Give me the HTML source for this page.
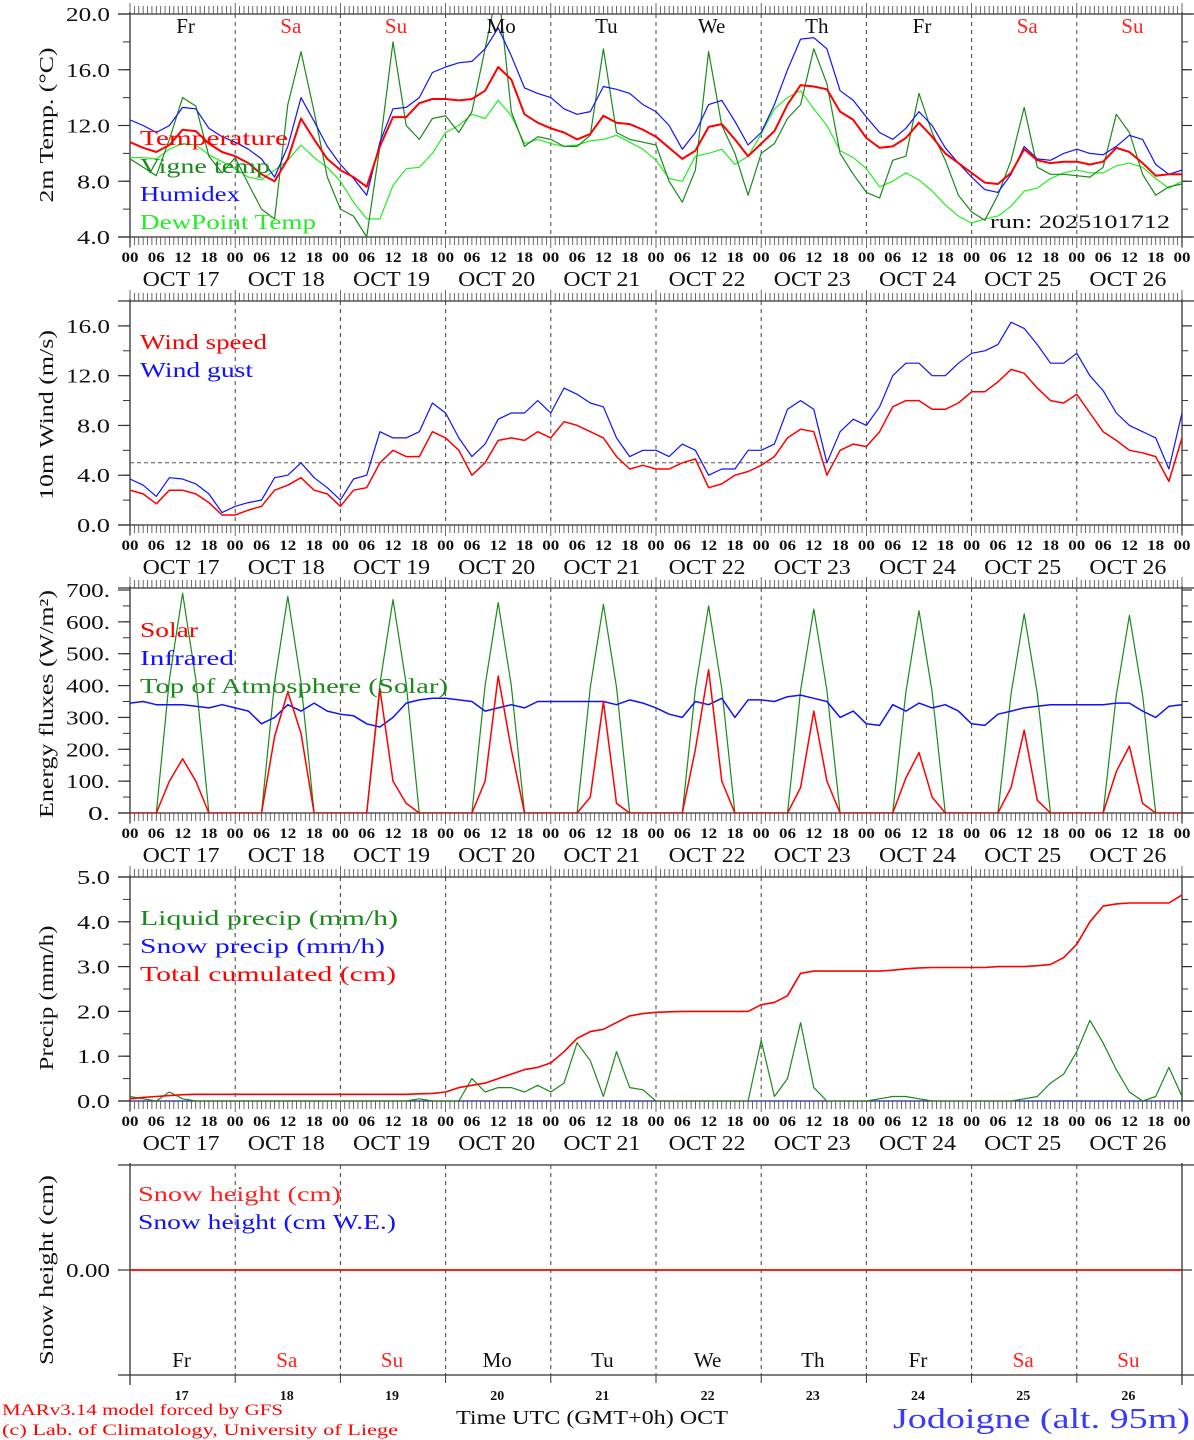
<!DOCTYPE html>
<html><head><meta charset="utf-8"><style>
html,body{margin:0;padding:0;background:#fff;}
svg{display:block;font-family:"Liberation Serif","DejaVu Serif",serif;}
</style></head><body>
<svg id="chart" width="1194" height="1440" viewBox="0 0 1194 1440" xmlns="http://www.w3.org/2000/svg">
<rect width="1194" height="1440" fill="#fff"/>
</svg>
<script>
// ---- data (3-hourly, 00 UTC Oct 17 -> 00 UTC Oct 27) ----
const dayNames = ["Fr","Sa","Su","Mo","Tu","We","Th","Fr","Sa","Su"];
const dayNums = ["17","18","19","20","21","22","23","24","25","26"];
const hourLabels = ["00","06","12","18"];
const tempTicks = [20,16,12,8,4];
const windTicks = [16,12,8,4,0];
const fluxTicks = [700,600,500,400,300,200,100,0];
const precipTicks = [5,4,3,2,1,0];

const temperature = [10.8,10.4,10.1,10.6,11.7,11.6,10.7,10.1, 9.8,9.3,8.5,8.0,9.6,12.5,11.0,9.6, 8.8,8.3,7.6,10.5,12.6,12.6,13.6,13.9, 13.9,13.8,13.9,14.5,16.2,15.3,12.8,12.2, 11.8,11.5,11.0,11.4,12.7,12.2,12.1,11.7, 11.2,10.4,9.6,10.2,11.9,12.1,11.0,9.8, 10.7,11.6,13.5,14.9,14.8,14.6,13.0,12.4, 11.1,10.4,10.5,11.1,12.2,11.2,10.0,9.3, 8.6,7.9,7.8,8.6,10.3,9.5,9.3,9.4, 9.4,9.2,9.4,10.4,10.1,9.3,8.4,8.5,8.5];
const vigneTemp = [9.6,9.0,8.4,11.0,14.0,13.4,9.8,8.6, 9.7,7.8,6.0,5.3,13.5,17.3,13.0,8.3, 6.0,5.5,4.0,10.5,18.0,12.0,11.0,12.5, 12.7,11.5,13.0,17.5,22.0,13.0,10.5,11.2, 11.0,10.5,10.5,11.3,17.5,11.5,11.0,10.8, 10.6,8.0,6.5,8.8,17.3,12.0,10.0,7.0, 10.0,10.7,12.5,13.5,17.5,15.0,10.0,8.5, 7.2,6.8,9.5,9.8,14.3,11.5,9.5,7.0, 5.8,5.2,7.0,9.5,13.3,9.0,8.5,8.5, 8.4,8.3,9.0,12.8,11.5,8.5,7.0,7.6,7.8];
const humidex = [12.4,12.0,11.5,12.0,13.3,13.2,11.8,11.2, 10.8,10.3,9.6,8.3,10.5,14.0,12.3,10.5, 9.2,8.2,7.0,10.8,13.2,13.3,14.0,15.8, 16.2,16.5,16.6,17.5,19.0,17.0,14.7,14.3, 14.0,13.2,12.8,13.0,14.8,14.6,14.3,13.5, 13.0,12.0,10.3,11.5,13.5,13.8,12.3,10.6, 11.5,13.5,16.0,18.2,18.3,17.5,14.5,13.8, 12.6,11.5,11.0,11.8,13.0,12.0,10.4,9.3, 8.3,7.4,7.2,8.5,10.5,9.6,9.5,10.0, 10.3,10.0,9.9,10.5,11.3,11.0,9.2,8.5,8.8];
const dewPoint = [9.7,9.7,9.6,10.3,10.7,10.6,9.9,9.4, 8.9,8.3,8.1,8.8,9.5,10.6,9.7,9.0, 8.0,6.5,5.3,5.3,7.7,8.9,9.0,10.0, 11.5,12.0,12.8,12.5,13.8,12.7,10.7,11.0, 10.7,10.5,10.6,10.9,11.0,11.3,10.8,10.3, 9.5,8.2,8.0,9.8,10.0,10.3,9.2,9.8, 11.4,13.2,14.0,14.5,13.2,12.0,10.2,9.7, 8.9,7.6,8.0,8.6,8.1,7.3,6.3,5.5, 5.0,5.3,5.5,6.2,7.3,7.5,8.2,8.6, 8.8,8.6,8.6,9.1,9.3,9.0,8.2,7.5,8.0];

const windSpeed = [2.8,2.5,1.7,2.8,2.8,2.5,1.8,0.8, 0.8,1.2,1.5,2.8,3.2,3.8,2.8,2.5, 1.5,2.8,3.0,5.0,6.0,5.5,5.5,7.5, 7.0,6.0,4.0,5.0,6.8,7.0,6.8,7.5, 7.0,8.3,8.0,7.5,7.0,5.5,4.5,4.8, 4.5,4.5,5.0,5.3,3.0,3.3,4.0,4.3, 4.8,5.5,7.0,7.7,7.5,4.0,6.0,6.5, 6.3,7.5,9.5,10.0,10.0,9.3,9.3,9.8, 10.7,10.7,11.5,12.5,12.2,11.0,10.0,9.8, 10.5,9.0,7.5,6.8,6.0,5.8,5.5,3.5,7.0];
const windGust = [3.7,3.2,2.3,3.8,3.7,3.3,2.5,1.0, 1.5,1.8,2.0,3.8,4.0,5.0,3.8,3.0, 2.0,3.7,4.0,7.5,7.0,7.0,7.5,9.8, 9.0,7.0,5.5,6.5,8.5,9.0,9.0,10.0, 9.0,11.0,10.5,9.8,9.5,7.0,5.5,6.0, 6.0,5.5,6.5,6.0,4.0,4.5,4.5,6.0, 6.0,6.5,9.3,10.0,9.3,5.0,7.5,8.5, 8.0,9.5,12.0,13.0,13.0,12.0,12.0,13.0, 13.8,14.0,14.5,16.3,15.8,14.5,13.0,13.0, 13.8,12.0,10.8,9.0,8.0,7.5,7.0,4.5,9.0];

const solar = [0,0,0,100,170,100,0,0, 0,0,0,240,380,250,0,0, 0,0,0,390,100,30,0,0, 0,0,0,100,430,200,0,0, 0,0,0,50,350,30,0,0, 0,0,0,200,450,100,0,0, 0,0,0,80,320,100,0,0, 0,0,0,110,190,50,0,0, 0,0,0,80,260,40,0,0, 0,0,0,130,210,30,0,0,0];
const infrared = [345,350,340,340,340,335,330,340, 330,320,280,300,340,320,345,320, 310,305,280,270,300,345,355,360, 360,355,350,320,330,340,330,350, 350,350,350,350,350,340,355,345, 330,310,300,350,340,360,300,355, 355,350,365,370,360,350,300,320, 280,275,340,320,345,330,340,320, 280,275,310,320,330,335,340,340, 340,340,340,345,345,320,300,335,340];
const toaSolar = [0,0,0,420,690,420,0,0, 0,0,0,410,680,410,0,0, 0,0,0,405,670,405,0,0, 0,0,0,400,660,400,0,0, 0,0,0,395,655,395,0,0, 0,0,0,390,650,390,0,0, 0,0,0,385,640,385,0,0, 0,0,0,380,635,380,0,0, 0,0,0,375,625,375,0,0, 0,0,0,370,620,370,0,0,0];

const liquidPrecip = [0.1,0.05,0.0,0.2,0.05,0.0,0.0,0.0, 0,0,0,0,0,0,0,0, 0,0,0,0,0,0,0.05,0.0, 0.0,0.0,0.5,0.2,0.3,0.3,0.2,0.35, 0.2,0.4,1.3,0.9,0.1,1.1,0.3,0.25, 0.0,0.0,0.0,0.0,0.0,0.0,0.0,0.0, 1.35,0.1,0.5,1.75,0.3,0.0,0.0,0.0, 0.0,0.05,0.1,0.1,0.05,0.0,0.0,0.0, 0.0,0.0,0.0,0.0,0.05,0.1,0.4,0.6, 1.1,1.8,1.3,0.7,0.2,0.0,0.1,0.75,0.1];
const snowPrecip = new Array(81).fill(0);
const totalCum = [0.05,0.08,0.1,0.12,0.14,0.15,0.15,0.15, 0.15,0.15,0.15,0.15,0.15,0.15,0.15,0.15, 0.15,0.15,0.15,0.15,0.15,0.15,0.16,0.17, 0.2,0.3,0.35,0.4,0.5,0.6,0.7,0.75, 0.85,1.1,1.4,1.55,1.6,1.75,1.9,1.95, 1.98,1.99,2.0,2.0,2.0,2.0,2.0,2.0, 2.15,2.2,2.35,2.85,2.9,2.9,2.9,2.9, 2.9,2.9,2.92,2.95,2.97,2.98,2.98,2.98, 2.98,2.98,3.0,3.0,3.0,3.02,3.05,3.2, 3.5,4.0,4.35,4.4,4.42,4.42,4.42,4.42,4.6];
const snowHeight = new Array(81).fill(0);

// ---- layout ----
const svg = document.getElementById('chart');
const NS = "http://www.w3.org/2000/svg";
const X0 = 130, X1 = 1182, STEP_H = 3;
function xScale(i){ return X0 + (i*STEP_H)/240*(X1-X0); }
function xHour(h){ return X0 + h/240*(X1-X0); }
function el(tag, attrs, parent){
  const e = document.createElementNS(NS, tag);
  for (const k in attrs) e.setAttribute(k, attrs[k]);
  (parent||svg).appendChild(e);
  return e;
}
function txt(s, attrs, parent){ const t = el('text', attrs, parent); t.textContent = s; return t; }

const panels = [
  {name:'temperature-panel', top:14, frame:14, bottom:237, vmin:4, vmax:20, ticks:tempTicks, fmt:v=>v.toFixed(1), minor:2, title:'2m Temp. (°C)', titleY:125, titleLen:155, hours:true},
  {name:'wind-panel', top:301, frame:301, bottom:525, vmin:0, vmax:18, ticks:windTicks, fmt:v=>v.toFixed(1), minor:2, title:'10m Wind (m/s)', titleY:415, titleLen:170, hours:true},
  {name:'energy-panel', top:590, frame:588, bottom:813, vmin:0, vmax:700, ticks:fluxTicks, fmt:v=>v+'.', minor:50, title:'Energy fluxes (W/m²)', titleY:704, titleLen:228, hours:true},
  {name:'precip-panel', top:877, frame:877, bottom:1101, vmin:0, vmax:5, ticks:precipTicks, fmt:v=>v.toFixed(1), minor:0.5, title:'Precip (mm/h)', titleY:998, titleLen:145, hours:true},
  {name:'snow-panel', top:1165, frame:1165, bottom:1375, vmin:-1, vmax:1, ticks:[0], fmt:v=>v.toFixed(2), minor:0, title:'Snow height (cm)', titleY:1270, titleLen:190, hours:false}
];
panels.forEach(p=>{ p.y = v => p.bottom - (v-p.vmin)/(p.vmax-p.vmin)*(p.bottom-p.top); });

panels.forEach((p,pi)=>{
  const g = el('g',{});
  
  
  const topY = p.frame;
  el('line',{x1:118,y1:topY,x2:1194,y2:topY,stroke:'#333','stroke-width':1.3},g);
  el('line',{x1:118,y1:p.bottom,x2:1194,y2:p.bottom,stroke:'#333','stroke-width':1.3},g);
  el('line',{x1:X0,y1:topY-2,x2:X0,y2:p.bottom+10,stroke:'#333','stroke-width':1.3},g);
  el('line',{x1:X1,y1:topY-2,x2:X1,y2:p.bottom+10,stroke:'#333','stroke-width':1.3},g);
  if (p.hours){
    for (let h=0; h<=240; h++){
      const x = xHour(h);
      const big = h%24===0;
      el('line',{x1:x,y1:topY,x2:x,y2:topY-(big?11:8),stroke:'#444','stroke-width':0.8},g);
      el('line',{x1:x,y1:p.bottom,x2:x,y2:p.bottom+(big?11:8),stroke:'#444','stroke-width':0.8},g);
    }
    for (let h=0; h<=240; h+=6){
      txt(hourLabels[(h/6)%4], {x:xHour(h)-8.5, y:p.bottom+25, 'font-size':15, 'font-weight':'bold', fill:'#111', textLength:17, lengthAdjust:'spacingAndGlyphs'}, g);
    }
    for (let d=0; d<10; d++){
      txt('OCT  '+dayNums[d], {x:xHour(d*24+12)-40, y:p.bottom+49, 'font-size':21, fill:'#111', 'xml:space':'preserve', textLength:77, lengthAdjust:'spacingAndGlyphs'}, g);
    }
  } else {
    for (let d=0; d<=10; d++){
      const x = xHour(d*24);
      el('line',{x1:x,y1:p.bottom,x2:x,y2:p.bottom+8,stroke:'#333','stroke-width':1},g);
    }
  }
  for (let d=1; d<10; d++){
    const x = xHour(d*24);
    el('line',{x1:x,y1:topY,x2:x,y2:p.bottom,stroke:'#444','stroke-width':1,'stroke-dasharray':'4,4'},g);
  }
  p.ticks.forEach(v=>{
    const y = p.y(v);
    el('line',{x1:118,y1:y,x2:X0,y2:y,stroke:'#333','stroke-width':1.2},g);
    el('line',{x1:X1,y1:y,x2:X1+10,y2:y,stroke:'#333','stroke-width':1.2},g);
    const s = p.fmt(v);
    txt(s, {x:110 - s.length*11, y:y+7, 'font-size':20, fill:'#111', textLength:s.length*11, lengthAdjust:'spacingAndGlyphs'}, g);
  });
  if (p.minor){
    for (let v=p.vmin; v<=p.vmax+1e-9; v+=p.minor){
      const y = p.y(v);
      if (y<topY) continue;
      el('line',{x1:123,y1:y,x2:X0,y2:y,stroke:'#333','stroke-width':1},g);
      el('line',{x1:X1,y1:y,x2:X1+6,y2:y,stroke:'#333','stroke-width':1},g);
    }
  }
  const t = txt(p.title, {x:-p.titleLen/2, y:0, 'font-size':20, fill:'#111', textLength:p.titleLen, lengthAdjust:'spacingAndGlyphs', transform:`translate(53,${p.titleY}) rotate(-90)`}, g);
  
  
  const cp = el('clipPath',{id:'clip'+pi},g);
  el('rect',{x:X0,y:topY,width:X1-X0,height:p.bottom-topY},cp);
  p.clip = 'url(#clip'+pi+')';
});

function series(p, arr, color, w, name){
  const pts = arr.map((v,i)=>xScale(i).toFixed(1)+','+p.y(v).toFixed(1)).join(' ');
  const l = el('polyline',{points:pts, fill:'none', stroke:color, 'stroke-width':w, 'clip-path':p.clip, 'stroke-linejoin':'round'});
  
  
}
function legend(s, x, y, len, color, size, name){
  const t = txt(s, {x:x, y:y, 'font-size':size||21, fill:color, textLength:len, lengthAdjust:'spacingAndGlyphs'});
  
  
}
const P = panels;
series(P[0], dewPoint, '#22ee22', 1.2, 'dewpoint-line');
series(P[0], vigneTemp, '#1a8a1a', 1.2, 'vigne-temp-line');
series(P[0], humidex, '#1111ff', 1.2, 'humidex-line');
series(P[0], temperature, '#ff0000', 2, 'temperature-line');
legend('Temperature',140,145,148,'#ff0000',21,'legend-temperature');
legend('Vigne temp',140,173,130,'#1a8a1a',21,'legend-vigne-temp');
legend('Humidex',140,201,100,'#1111ff',21,'legend-humidex');
legend('DewPoint Temp',140,229,176,'#22ee22',21,'legend-dewpoint');
legend('run: 2025101712',990,228,180,'#111',19,'run-label');
dayNames.forEach((d,i)=>{
  const c = (d==='Sa'||d==='Su') ? '#ff2020' : '#111';
  const a = txt(d,{x:xHour(i*24+12)+3,y:33,'font-size':21,'text-anchor':'middle',fill:c});
  
  
  const b = txt(d,{x:xHour(i*24+12)-1,y:1367,'font-size':21,'text-anchor':'middle',fill:c});
  
  
  const n = txt(dayNums[i],{x:xHour(i*24+12)-1,y:1400,'font-size':14,'font-weight':'bold','text-anchor':'middle',fill:'#111'});
  
  
});
el('line',{x1:X0,y1:P[1].y(5),x2:X1,y2:P[1].y(5),stroke:'#555','stroke-width':1,'stroke-dasharray':'4,3'});
series(P[1], windGust, '#1111ff', 1.2, 'wind-gust-line');
series(P[1], windSpeed, '#ff0000', 1.5, 'wind-speed-line');
legend('Wind speed',140,349,127,'#ff0000',21,'legend-wind-speed');
legend('Wind gust',140,377,113,'#1111ff',21,'legend-wind-gust');
series(P[2], toaSolar, '#1a8a1a', 1.2, 'toa-solar-line');
series(P[2], infrared, '#1111ff', 1.5, 'infrared-line');
series(P[2], solar, '#ff0000', 1.5, 'solar-line');
legend('Solar',140,637,58,'#ff0000',21,'legend-solar');
legend('Infrared',140,665,94,'#1111ff',21,'legend-infrared');
legend('Top of Atmosphere (Solar)',140,693,308,'#1a8a1a',21,'legend-toa');
series(P[3], snowPrecip, '#1111ff', 1, 'snow-precip-line');
series(P[3], liquidPrecip, '#1a8a1a', 1.2, 'liquid-precip-line');
series(P[3], totalCum, '#ff0000', 1.6, 'total-cumulated-line');
legend('Liquid precip (mm/h)',140,925,258,'#1a8a1a',21,'legend-liquid-precip');
legend('Snow precip (mm/h)',140,953,245,'#1111ff',21,'legend-snow-precip');
legend('Total cumulated (cm)',140,981,256,'#ff0000',21,'legend-total-cumulated');
series(P[4], snowHeight, '#ff0000', 1.8, 'snow-height-line');
legend('Snow height (cm)',138,1201,203,'#ff2020',21,'legend-snow-height');
legend('Snow height (cm W.E.)',138,1229,258,'#1111ff',21,'legend-snow-height-we');
legend('MARv3.14 model forced by GFS',2,1415,281,'#ff0000',16,'credit-model');
legend('(c) Lab. of Climatology, University of Liege',2,1435,396,'#ff0000',16,'credit-lab');
legend('Time UTC (GMT+0h) OCT',456,1424,272,'#111',20,'x-axis-title');
legend('Jodoigne (alt. 95m)',893,1428,297,'#3a3aff',28,'location-title');
</script>
</body></html>
